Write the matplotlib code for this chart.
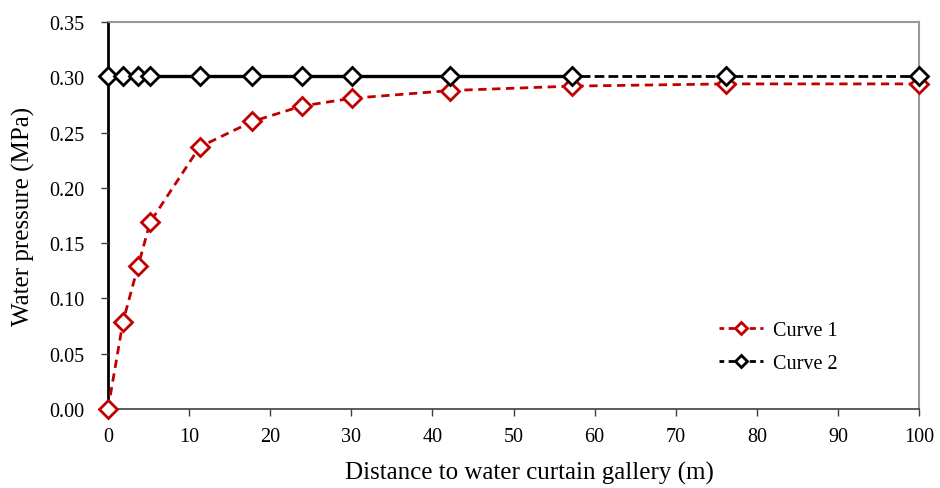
import numpy as np
import matplotlib
matplotlib.use("Agg")
import matplotlib.pyplot as plt
from matplotlib.lines import Line2D

# data
distance = [0, 1.85, 3.7, 5.2, 11.3, 17.8, 23.9, 30.1, 42.2, 57.2, 76.2, 100]
curve1 = [0.0, 0.079, 0.129, 0.169, 0.237, 0.260, 0.274, 0.281, 0.288, 0.292, 0.294, 0.294]
curve2 = [0.301] * len(distance)
# solid black reference line under curve 2, up to ~57 m
ref_x = [0, 57.2]
ref_y = [0.301, 0.301]
yticks = [0.00, 0.05, 0.10, 0.15, 0.20, 0.25, 0.30, 0.35]

plt.rcParams['font.family'] = ['Liberation Serif', 'DejaVu Serif']

fig = plt.figure(figsize=(9.4, 4.89), dpi=100)
ax = fig.add_axes([0.1149, 0.1616, 0.8628, 0.7914])

ax.plot(ref_x, ref_y, color='black', lw=2.4, solid_capstyle='butt', zorder=2)
ax.plot(distance, curve1, color='#c00000', lw=2, ls=(0, (3, 2)),
        marker='D', ms=9.5, mfc='white', mec='#c00000', mew=2,
        zorder=3, clip_on=False)
ax.plot(distance, curve2, color='black', lw=2, ls=(0, (3.5, 1.5)),
        marker='D', ms=9.5, mfc='white', mec='black', mew=2,
        zorder=4, clip_on=False)

ax.set_xlim(0, 100)
ax.set_ylim(0, 0.35)
ax.set_xticks(np.arange(0, 101, 10))
ax.set_yticks(yticks)
ax.set_yticklabels([f"{v:.2f}" for v in yticks])

ax.tick_params(axis='both', direction='out', length=5, width=1, labelsize=14.5,
               color='#404040')
ax.tick_params(axis='y', pad=12)
ax.tick_params(axis='x', pad=8)
ax.spines['left'].set_color('black')
ax.spines['left'].set_linewidth(2)
ax.spines['bottom'].set_color('#404040')
ax.spines['bottom'].set_linewidth(1.2)
ax.spines['top'].set_color('#999999')
ax.spines['top'].set_linewidth(1.5)
ax.spines['right'].set_color('#999999')
ax.spines['right'].set_linewidth(1.5)
for sp in ax.spines.values():
    sp.set_zorder(1)

ax.set_xlabel('Distance to water curtain gallery (m)', fontsize=18, va='center')
ax.xaxis.set_label_coords(0.52, -0.163)
ax.set_ylabel('Water pressure (MPa)', fontsize=18, va='center')
ax.yaxis.set_label_coords(-0.104, 0.5)

# legend handles with a shorter dash so the little sample reads "-- <> --"
h1 = Line2D([], [], color='#c00000', lw=2, ls=(0.5, (2.2, 1.6)), marker='D', ms=6.5,
            mfc='white', mec='#c00000', mew=2)
h2 = Line2D([], [], color='black', lw=2, ls=(0.5, (2.2, 1.6)), marker='D', ms=6.5,
            mfc='white', mec='black', mew=2)
leg = ax.legend([h1, h2], ['Curve 1', 'Curve 2'], loc='lower right',
                bbox_to_anchor=(0.922, 0.045), frameon=False, fontsize=14.5,
                handlelength=2.2, labelspacing=0.7, handletextpad=0.5)

fig.savefig('out.png', dpi=100)
